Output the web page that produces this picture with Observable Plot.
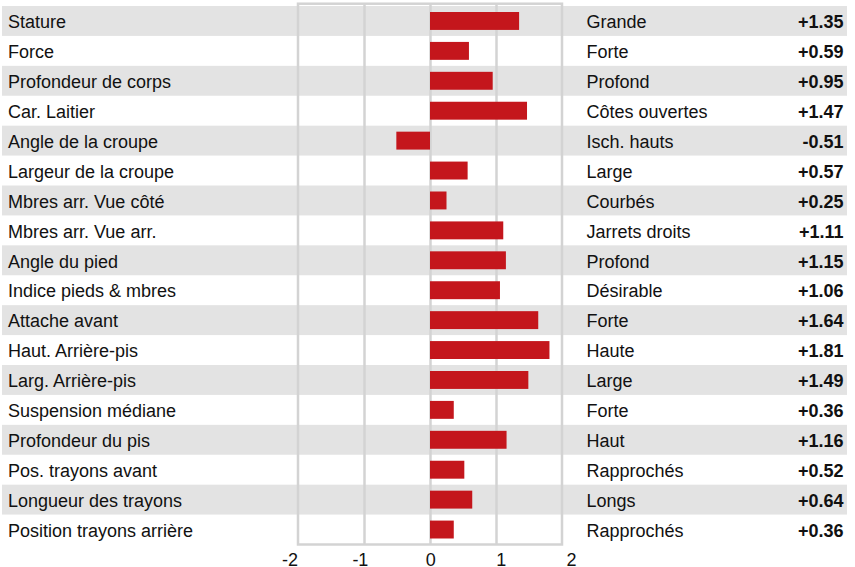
<!DOCTYPE html>
<html>
<head>
<meta charset="utf-8">
<script src="https://cdn.jsdelivr.net/npm/d3@7"></script>
<script src="https://cdn.jsdelivr.net/npm/@observablehq/plot@0.6"></script>
<style>
  html, body { margin: 0; padding: 0; background: #fff; }
  svg { display: block; }
</style>
</head>
<body>
<div id="chart"></div>
<script>
const names = [
  "Stature", "Force", "Profondeur de corps", "Car. Laitier", "Angle de la croupe",
  "Largeur de la croupe", "Mbres arr. Vue côté", "Mbres arr. Vue arr.", "Angle du pied",
  "Indice pieds & mbres", "Attache avant", "Haut. Arrière-pis", "Larg. Arrière-pis",
  "Suspension médiane", "Profondeur du pis", "Pos. trayons avant", "Longueur des trayons",
  "Position trayons arrière"
];
const descs = [
  "Grande", "Forte", "Profond", "Côtes ouvertes", "Isch. hauts", "Large", "Courbés",
  "Jarrets droits", "Profond", "Désirable", "Forte", "Haute", "Large", "Forte", "Haut",
  "Rapprochés", "Longs", "Rapprochés"
];
const values = [1.35, 0.59, 0.95, 1.47, -0.51, 0.57, 0.25, 1.11, 1.15, 1.06, 1.64, 1.81, 1.49, 0.36, 1.16, 0.52, 0.64, 0.36];
const ticks = [-2, -1, 0, 1, 2];

const rows = names.map((name, i) => ({name, desc: descs[i], value: values[i], i}));
const fmt = d3.formatLocale({decimal: ".", thousands: ",", grouping: [3], currency: ["", ""], minus: "-"}).format("+.2f");

const font = "'Liberation Sans', Arial, Helvetica, sans-serif";
const textColor = "#111";

const main = Plot.plot({
  width: 855,
  height: 548,
  marginTop: 3.7,
  marginBottom: 3.5,
  marginLeft: 0,
  marginRight: 0,
  style: {fontFamily: font, background: "#fff"},
  x: {domain: [ticks[0], ticks[ticks.length - 1]], range: [298, 562], axis: null},
  y: {domain: names, padding: 0, insetTop: 2.3, round: false, axis: null},
  marks: [
    Plot.cell(rows.filter(d => d.i % 2 === 0), {y: "name", fill: "#e3e3e3", insetLeft: 2, insetRight: 8}),
    Plot.ruleX(ticks.slice(1, -1), {stroke: "#d3d3d3", strokeWidth: 2.5}),
    Plot.rect([{a: ticks[0], b: ticks[ticks.length - 1]}], {x1: "a", x2: "b", fill: "none", stroke: "#d3d3d3", strokeWidth: 2.5}),
    Plot.barX(rows, {y: "name", x: "value", fill: "#c4161c", insetTop: 6, insetBottom: 6}),
    Plot.text(rows, {y: "name", text: "name", frameAnchor: "left", dx: 7.5, dy: 1, textAnchor: "start", fontSize: 18, fill: textColor}),
    Plot.text(rows, {y: "name", text: "desc", frameAnchor: "left", dx: 586, dy: 1, textAnchor: "start", fontSize: 18, fill: textColor}),
    Plot.text(rows, {y: "name", text: d => fmt(d.value), frameAnchor: "right", dx: -12, dy: 1, textAnchor: "end", fontSize: 18, fontWeight: "bold", fill: textColor})
  ]
});

const axis = Plot.plot({
  width: 855,
  height: 19,
  marginTop: 0,
  marginBottom: 0,
  marginLeft: 0,
  marginRight: 0,
  style: {fontFamily: font, background: "#fff"},
  x: {domain: [ticks[0], ticks[ticks.length - 1]], range: [289.5, 571], axis: null},
  marks: [
    Plot.text(ticks, {x: d => d, text: d => String(d), frameAnchor: "middle", dy: 2.5, fontSize: 18, fill: textColor})
  ]
});

const el = document.getElementById("chart");
el.appendChild(main);
el.appendChild(axis);
</script>
</body>
</html>
